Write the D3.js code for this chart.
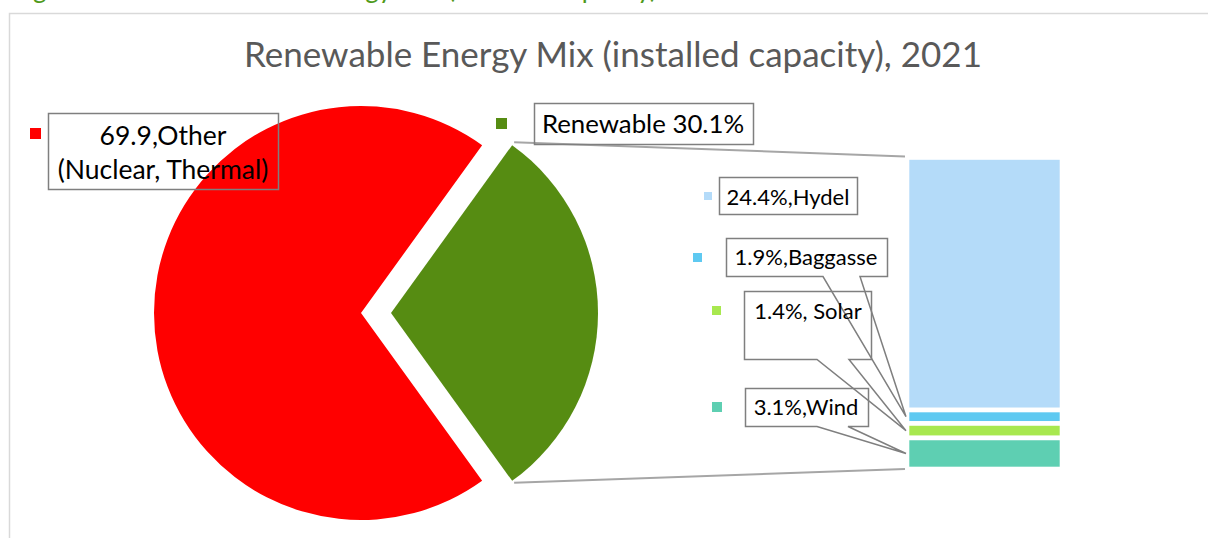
<!DOCTYPE html>
<html>
<head>
	<meta charset="utf-8">
	<title>Renewable Energy Mix</title>
	<script src="https://d3js.org/d3.v7.min.js"></script>
	<style>
		body { margin: 0; background: #fff; }
		text { font-family: Lato, "Open Sans", sans-serif; }
	</style>
</head>
<body>
<div id="viz"></div>
<script>

// data
var pieNames = ["Renewable", "Other"];
var pieValues = [30.1, 69.9];
var pieColors = ["#568c12", "#ff0000"];

var barNames = ["Hydel", "Baggasse", "Solar", "Wind"];
var barValues = [24.4, 1.3, 1.4, 3.0];   // as drawn in the bar
var barLabels = ["24.4%,Hydel", "1.9%,Baggasse", "1.4%, Solar", "3.1%,Wind"];
var barColors = ["#b4dbf9", "#5ec9f1", "#a8e84f", "#5ecfb2"];

var W = 1208, H = 538;
var svg = d3.select("#viz").append("svg")
	.attr("width", W).attr("height", H);

// caption of the figure, mostly above the page edge
svg.append("text")
	.attr("x", 12).attr("y", -2)
	.attr("fill", "#4f9a1a")
	.style("font-size", "26px")
	.text("Figure");
svg.append("text")
	.attr("x", 657).attr("y", -2)
	.attr("text-anchor", "end")
	.attr("fill", "#4f9a1a")
	.style("font-size", "26px")
	.text("Renewable Energy Mix (installed capacity)");

// chart frame
svg.append("rect")
	.attr("x", 9.5).attr("y", 13.5)
	.attr("width", W + 20).attr("height", H + 20)
	.attr("fill", "none").attr("stroke", "#d9d9d9").attr("stroke-width", 1.5);

// title
svg.append("text")
	.attr("x", 613).attr("y", 67)
	.attr("text-anchor", "middle")
	.attr("fill", "#595959")
	.style("font-size", "35px")
	.text("Renewable Energy Mix (installed capacity), 2021");

// pie, renewable slice centred on the right
var r = 207;
var a0 = Math.PI / 2 - Math.PI * pieValues[0] / 100;
var pie = d3.pie().sort(null).startAngle(a0).endAngle(a0 + 2 * Math.PI);
var arc = d3.arc().innerRadius(0).outerRadius(r);
var centres = [[391, 313], [361, 313]];
var slices = pie(pieValues);

svg.selectAll(".slice")
	.data(slices)
	.enter().append("path")
	.attr("class", "slice")
	.attr("transform", function(d, i) { return "translate(" + centres[i] + ")"; })
	.attr("fill", function(d, i) { return pieColors[i]; })
	.attr("d", arc);

// bar of pie
var barX = 907, barW = 155;
var total = d3.sum(barValues);
var y = d3.scaleLinear().domain([0, total]).range([157.5, 469]);
var stack = [];
var acc = 0;
barValues.forEach(function(v, i) { stack.push({ i: i, y0: acc, y1: acc + v }); acc += v; });

svg.selectAll(".seg")
	.data(stack)
	.enter().append("rect")
	.attr("class", "seg")
	.attr("x", barX)
	.attr("y", function(d) { return y(d.y0); })
	.attr("width", barW)
	.attr("height", function(d) { return y(d.y1) - y(d.y0); })
	.attr("fill", function(d) { return barColors[d.i]; })
	.attr("stroke", "#fff").attr("stroke-width", 4.6);

// connector lines from the renewable slice to the bar
var g = slices[0];
var cx = centres[0][0], cy = centres[0][1];
var pTop = [cx + r * Math.sin(g.startAngle) + 2, cy - r * Math.cos(g.startAngle) - 3];
var pBot = [cx + r * Math.sin(g.endAngle) + 2, cy - r * Math.cos(g.endAngle) + 2];
svg.append("line")
	.attr("x1", pTop[0]).attr("y1", pTop[1])
	.attr("x2", barX - 2).attr("y2", y(0) - 1)
	.attr("stroke", "#a6a6a6").attr("stroke-width", 2);
svg.append("line")
	.attr("x1", pBot[0]).attr("y1", pBot[1])
	.attr("x2", barX - 2).attr("y2", y(total))
	.attr("stroke", "#a6a6a6").attr("stroke-width", 2);

// data label boxes (no fill, like excel callouts)
var boxStroke = "#7f7f7f";
function box(x0, y0, x1, y1) {
	svg.append("rect")
		.attr("x", x0).attr("y", y0).attr("width", x1 - x0).attr("height", y1 - y0)
		.attr("fill", "none").attr("stroke", boxStroke).attr("stroke-width", 1.5);
}
function callout(x0, y0, x1, y1, b1, b2, tip) {
	var p = d3.path();
	p.moveTo(x0, y0); p.lineTo(x1, y0); p.lineTo(x1, y1);
	p.lineTo(b2, y1); p.lineTo(tip[0], tip[1]); p.lineTo(b1, y1);
	p.lineTo(x0, y1); p.closePath();
	svg.append("path").attr("d", p.toString())
		.attr("fill", "none").attr("stroke", boxStroke).attr("stroke-width", 1.5)
		.attr("stroke-linejoin", "miter");
}
function key(x, yy, s, col) {
	svg.append("rect").attr("x", x).attr("y", yy).attr("width", s).attr("height", s).attr("fill", col);
}
function label(x, yy, t, size) {
	svg.append("text").attr("x", x).attr("y", yy)
		.attr("text-anchor", "middle").attr("fill", "#000")
		.style("font-size", (size || 22) + "px").text(t);
}
function tipOf(i) {
	return [barX - 1, (y(stack[i].y0) + y(stack[i].y1)) / 2];
}

// Other
key(30, 128, 11, pieColors[1]);
box(48.5, 113.5, 278.5, 189.5);
label(163, 145, "69.9,Other", 26.5);
label(163, 179, "(Nuclear, Thermal)", 26.5);

// Renewable
key(496, 118, 11, pieColors[0]);
box(534.5, 103.5, 753.5, 144.5);
label(643, 133, pieNames[0] + " " + pieValues[0] + "%", 25.8);

// Hydel
key(704, 192, 8, barColors[0]);
box(719.5, 177.5, 857.5, 214.5);
label(788, 205, barLabels[0]);

// Baggasse
key(693, 253, 9, barColors[1]);
callout(726.5, 238.5, 887.5, 276.5, 823, 860, tipOf(1));
label(806, 265, barLabels[1]);

// Solar
key(712, 306, 9, barColors[2]);
callout(744.5, 291.5, 871.5, 359.5, 817, 849, tipOf(2));
label(808, 319, barLabels[2]);

// Wind
key(712, 402, 10, barColors[3]);
callout(745.5, 388.5, 868.5, 426.5, 817, 848, tipOf(3));
label(806, 415, barLabels[3]);

</script>
</body>
</html>
